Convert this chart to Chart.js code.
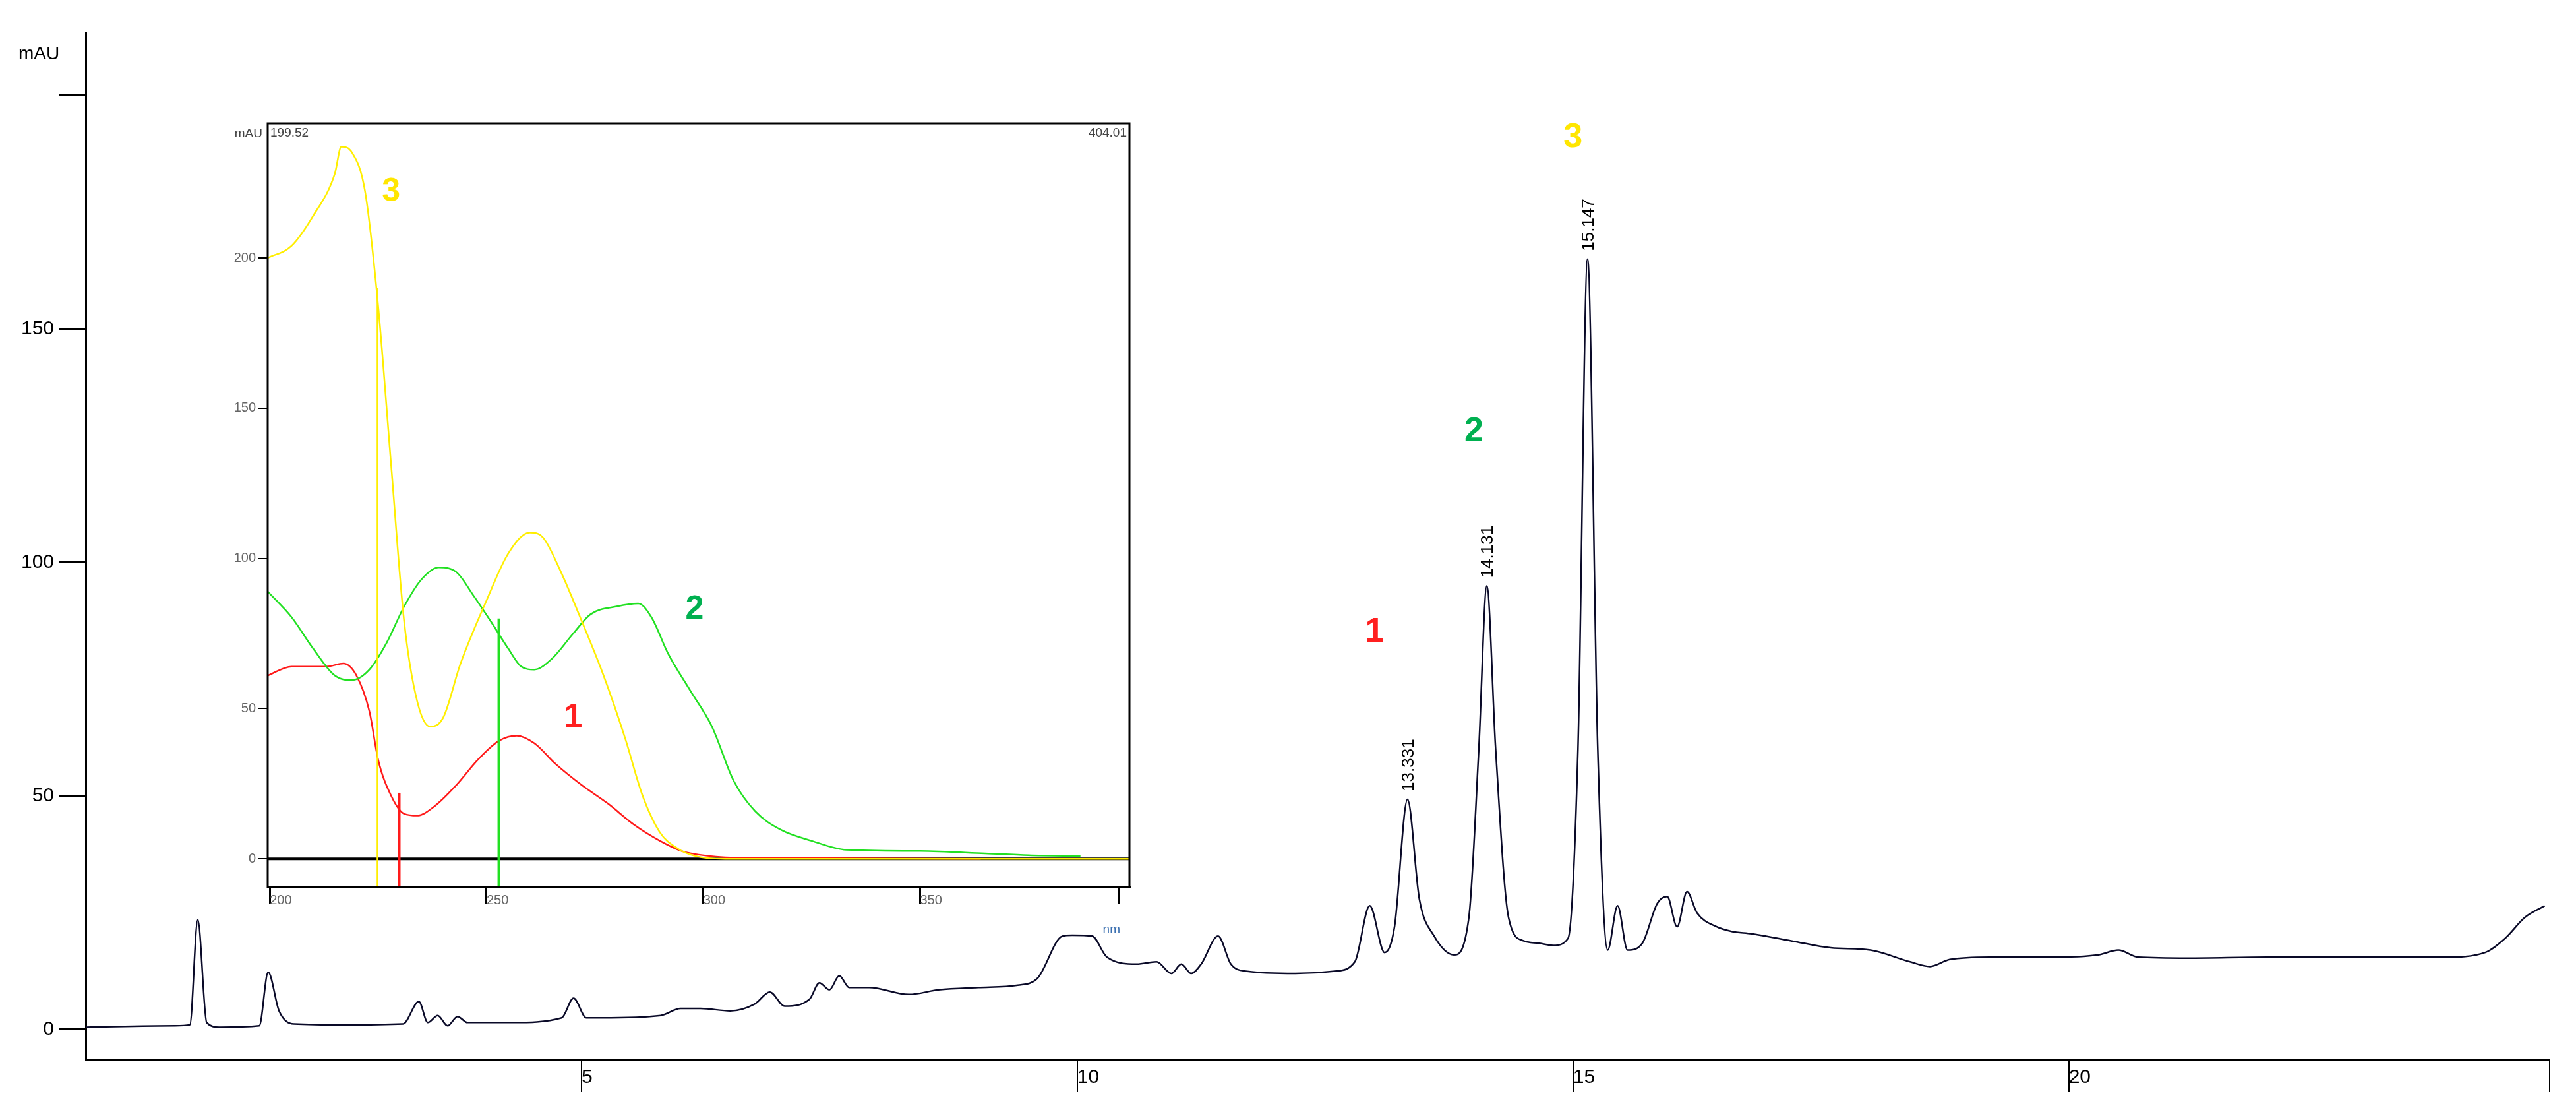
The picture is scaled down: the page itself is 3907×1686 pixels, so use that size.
<!DOCTYPE html>
<html>
<head>
<meta charset="utf-8">
<script src="https://cdn.jsdelivr.net/npm/chart.js@4.4.1/dist/chart.umd.min.js"></script>
<style>
  body { margin: 0; background: #fff; }
  #main { position: absolute; left: 0; top: 0; }
  #inset { position: absolute; left: 300px; top: 150px; }
</style>
</head>
<body>
<canvas id="main" width="3907" height="1686"></canvas>
<canvas id="inset" width="1480" height="1300"></canvas>
<script>
// chromatogram (time in min, mAU)
const chromTime = [0, 0.9, 1.05, 1.13, 1.22, 1.35, 1.75, 1.84, 1.95, 2.1, 2.6, 3.2, 3.36, 3.45, 3.55, 3.65, 3.75, 3.85, 4.0, 4.3, 4.8, 4.92, 5.05, 5.2, 5.8, 6.0, 6.2, 6.5, 6.75, 6.9, 7.05, 7.3, 7.4, 7.5, 7.6, 7.7, 7.9, 8.3, 8.6, 9.0, 9.4, 9.6, 9.85, 9.95, 10.15, 10.3, 10.6, 10.8, 10.95, 11.05, 11.15, 11.25, 11.42, 11.55, 11.7, 12.2, 12.6, 12.8, 12.95, 13.1, 13.2, 13.331, 13.45, 13.6, 13.8, 13.95, 14.05, 14.131, 14.22, 14.35, 14.5, 14.65, 14.8, 14.95, 15.05, 15.147, 15.25, 15.35, 15.45, 15.55, 15.7, 15.85, 15.95, 16.05, 16.15, 16.25, 16.45, 16.6, 16.8, 17.2, 17.6, 18.0, 18.4, 18.6, 18.8, 19.2, 19.8, 20.3, 20.5, 20.7, 21.2, 22.0, 23.0, 23.8, 24.2, 24.4, 24.6, 24.8];
const chromValue = [0.5, 0.8, 1.0, 23.5, 1.5, 0.5, 0.8, 12.3, 4, 1.2, 1.0, 1.2, 6.0, 1.5, 3.0, 0.8, 2.8, 1.5, 1.5, 1.5, 2.5, 6.7, 2.5, 2.5, 3.0, 4.5, 4.5, 4.0, 5.5, 8.0, 5.0, 6.5, 10.0, 8.5, 11.5, 9.0, 9.0, 7.5, 8.5, 9.0, 9.5, 11.0, 20.0, 20.2, 20.0, 15.5, 14.0, 14.5, 12.0, 14.0, 12.0, 14.0, 20.0, 14.0, 12.5, 12.0, 12.5, 14.5, 26.5, 16.5, 22.0, 49.3, 28.0, 20.0, 16.0, 24.0, 60.0, 95.0, 60.0, 24.0, 19.0, 18.5, 18.0, 19.5, 60.0, 165.0, 60.0, 17.0, 26.5, 17.0, 18.5, 27.0, 28.5, 22.0, 29.5, 25.0, 22.0, 21.0, 20.5, 19.0, 17.5, 17.0, 14.5, 13.5, 15.0, 15.5, 15.5, 16.0, 17.0, 15.5, 15.3, 15.5, 15.5, 15.5, 16.5, 19.5, 24.0, 26.5];
const peakTimes = [13.331, 14.131, 15.147];
const peakHeights = [49.3, 95.0, 165.0];
const peakLabels = ["13.331", "14.131", "15.147"];
const compoundNames = ["1", "2", "3"];
const compoundColors = ["#ff2020", "#00b050", "#ffe600"];
const compoundLabelTime = [13.0, 14.0, 15.0];
const compoundLabelValue = [83, 126, 189];
const mainTicksX = [5, 10, 15, 20];
const mainTicksY = [0, 50, 100, 150, 200];

// UV spectra of the three peaks (nm, mAU)
const nm1 = [199.52, 205, 213, 217, 220, 223, 225, 228, 231, 234, 238, 243, 248, 253, 257, 261, 266, 272, 278, 284, 290, 295, 301, 310, 364];
const spec1 = [61, 64, 64, 65, 61, 49, 33, 21, 15, 14.4, 17.5, 24.5, 33, 39.4, 41, 38.5, 31.5, 24.5, 18.4, 11.4, 6, 2.6, 1, 0.3, 0];
const nm2 = [199.52, 205, 210, 215, 219, 223, 227, 231, 235, 239, 243, 247, 251, 255, 258, 261, 265, 270, 274, 280, 285, 288, 292, 297, 302, 307, 312, 318, 325, 333, 350, 365, 375, 387];
const spec2 = [89, 80.5, 70, 61, 59.5, 63, 72, 84, 93, 97, 95.5, 87.6, 79, 70, 64, 63, 66.5, 75, 81.4, 84, 85, 80.5, 68, 56, 44, 26, 15.8, 9.6, 6, 3, 2.6, 1.8, 1.2, 0.9];
const nm3 = [199.52, 205, 210, 215, 216.5, 219, 222, 225, 228, 231, 234, 237, 240, 244, 250, 255, 260, 263, 267, 272, 277, 282, 286, 290, 294, 298, 305, 404.01];
const spec3 = [200, 204, 214, 228, 237, 235, 222, 184, 131, 79, 52.5, 44, 47, 65, 86, 101.6, 108.6, 107, 96, 79, 61, 40, 21, 8.8, 3.5, 1, 0, 0];
const markerNm = [229.9, 252.8, 224.8];
const markerTop = [22, 80, 190];
const insetTicksX = [200, 250, 300, 350, 396];
const insetTicksY = [0, 50, 100, 150, 200];
const insetRange = ["199.52", "404.01"];
const specLabelNm = [270, 298, 228];
const specLabelValue = [47, 83, 222];

const pts = (xs, ys) => xs.map((x, i) => ({ x: x, y: ys[i] }));
const font = "'Liberation Sans', Arial, sans-serif";

const mainText = {
  id: 'mainText',
  afterDatasetsDraw(chart) {
    const { ctx, scales: { x, y } } = chart;
    ctx.save();
    ctx.fillStyle = '#000';
    ctx.font = '28px ' + font;
    ctx.textAlign = 'left';
    ctx.fillText('mAU', 28, 90);
    // peak retention times, rotated
    ctx.font = '26px ' + font;
    peakTimes.forEach((t, i) => {
      ctx.save();
      ctx.translate(x.getPixelForValue(t) + 9, y.getPixelForValue(peakHeights[i]) - 12);
      ctx.rotate(-Math.PI / 2);
      ctx.textAlign = 'left';
      ctx.fillText(peakLabels[i], 0, 0);
      ctx.restore();
    });
    ctx.font = 'bold 52px ' + font;
    ctx.textAlign = 'center';
    compoundNames.forEach((n, i) => {
      ctx.fillStyle = compoundColors[i];
      ctx.fillText(n, x.getPixelForValue(compoundLabelTime[i]), y.getPixelForValue(compoundLabelValue[i]));
    });
    // end tick of time axis
    ctx.strokeStyle = '#000';
    ctx.lineWidth = 2;
    ctx.beginPath();
    ctx.moveTo(x.right, y.bottom);
    ctx.lineTo(x.right, y.bottom + 50);
    ctx.stroke();
    ctx.restore();
  }
};

new Chart(document.getElementById('main'), {
  type: 'scatter',
  data: {
    datasets: [{
      data: pts(chromTime, chromValue),
      showLine: true,
      borderColor: '#0a0a28',
      borderWidth: 2.5,
      pointRadius: 0,
      cubicInterpolationMode: 'monotone'
    }]
  },
  options: {
    responsive: false,
    animation: false,
    devicePixelRatio: 1,
    layout: { padding: { top: 50, right: 40, left: 0, bottom: 0 } },
    plugins: { legend: { display: false }, tooltip: { enabled: false } },
    scales: {
      x: {
        type: 'linear', min: 0, max: 24.85,
        afterBuildTicks: s => { s.ticks = mainTicksX.map(v => ({ value: v })); },
        afterFit: s => { s.height = 80; },
        border: { color: '#000', width: 3 },
        grid: { drawOnChartArea: false, color: '#000', tickLength: 50, lineWidth: 2 },
        ticks: { align: 'start', padding: -40, color: '#000', font: { size: 30, family: font } }
      },
      y: {
        type: 'linear', min: -6.36, max: 213.4,
        afterBuildTicks: s => { s.ticks = mainTicksY.map(v => ({ value: v })); },
        afterFit: s => { s.width = 130; },
        border: { color: '#000', width: 3 },
        grid: { drawOnChartArea: false, color: '#000', tickLength: 40, lineWidth: 3 },
        ticks: { color: '#000', padding: 8, font: { size: 30, family: font },
          callback: v => (v === 200 ? '' : v) }
      }
    }
  },
  plugins: [mainText]
});

const insetText = {
  id: 'insetText',
  beforeDatasetsDraw(chart) {
    const { ctx, chartArea: a } = chart;
    ctx.save();
    ctx.fillStyle = '#fff';
    ctx.fillRect(a.left, a.top, a.right - a.left, a.bottom - a.top);
    ctx.restore();
  },
  afterDatasetsDraw(chart) {
    const { ctx, chartArea: a, scales: { x, y } } = chart;
    ctx.save();
    ctx.strokeStyle = '#000';
    ctx.lineWidth = 3;
    ctx.strokeRect(a.left, a.top, a.right - a.left, a.bottom - a.top);
    ctx.fillStyle = '#444';
    ctx.font = '19px ' + font;
    ctx.textBaseline = 'top';
    ctx.textAlign = 'left';
    ctx.fillText(insetRange[0], a.left + 4, a.top + 5);
    ctx.textAlign = 'right';
    ctx.fillText(insetRange[1], a.right - 4, a.top + 5);
    ctx.fillText('mAU', a.left - 8, a.top + 6);
    ctx.fillStyle = '#3a6fb0';
    ctx.fillText('nm', a.right - 14, a.bottom + 55);
    ctx.font = 'bold 50px ' + font;
    ctx.textAlign = 'center';
    ctx.textBaseline = 'middle';
    compoundNames.forEach((n, i) => {
      ctx.fillStyle = compoundColors[i];
      ctx.fillText(n, x.getPixelForValue(specLabelNm[i]), y.getPixelForValue(specLabelValue[i]));
    });
    ctx.restore();
  }
};

const specColors = ['#ff1a1a', '#22e022', '#ffee00'];
const insetSets = [{
  data: pts([199.52, 404.01], [0, 0]), borderColor: '#000', borderWidth: 4, order: 5
}];
[[nm1, spec1], [nm2, spec2], [nm3, spec3]].forEach((s, i) => {
  insetSets.push({ data: pts(s[0], s[1]), borderColor: specColors[i], borderWidth: 2.5, cubicInterpolationMode: 'monotone', order: 3 - i });
  insetSets.push({ data: pts([markerNm[i], markerNm[i]], [-9.4, markerTop[i]]),
    borderColor: specColors[i], borderWidth: i === 2 ? 2 : 3.5, order: 3 - i });
});
insetSets.forEach(d => { d.showLine = true; d.pointRadius = 0; });

new Chart(document.getElementById('inset'), {
  type: 'scatter',
  data: { datasets: insetSets },
  options: {
    responsive: false,
    animation: false,
    devicePixelRatio: 1,
    layout: { padding: { top: 37, right: 67, left: 0, bottom: 0 } },
    plugins: { legend: { display: false }, tooltip: { enabled: false } },
    scales: {
      x: {
        type: 'linear', min: 199.52, max: 398.3,
        afterBuildTicks: s => { s.ticks = insetTicksX.map(v => ({ value: v })); },
        afterFit: s => { s.height = 105; },
        border: { color: '#000', width: 3 },
        grid: { drawOnChartArea: false, color: '#000', tickLength: 26, lineWidth: 3 },
        ticks: { align: 'start', padding: -18, color: '#666', font: { size: 20, family: font },
          callback: v => (v > 390 ? '' : v) }
      },
      y: {
        type: 'linear', min: -9.4, max: 244.8,
        afterBuildTicks: s => { s.ticks = insetTicksY.map(v => ({ value: v })); },
        afterFit: s => { s.width = 106; },
        border: { color: '#000', width: 3 },
        grid: { drawOnChartArea: false, color: '#000', tickLength: 14, lineWidth: 2 },
        ticks: { color: '#666', padding: 4, font: { size: 20, family: font } }
      }
    }
  },
  plugins: [insetText]
});
</script>
</body>
</html>
